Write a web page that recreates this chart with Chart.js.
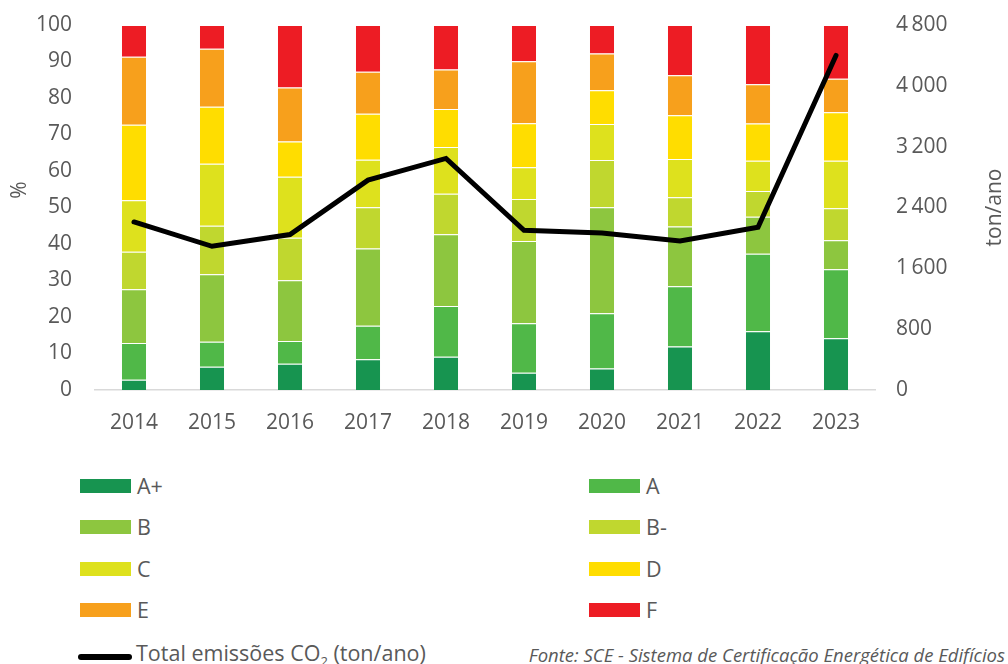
<!DOCTYPE html>
<html>
<head>
<meta charset="utf-8">
<script src="https://cdn.jsdelivr.net/npm/chart.js@4/dist/chart.umd.min.js"></script>
<style>
  body { margin: 0; background: #fff; font-family: 'Open Sans', sans-serif; color: #595959; }
  #wrap { position: relative; width: 1008px; height: 664px; }
  #chart-box { position: absolute; left: 0; top: 0; width: 1008px; height: 440px; }
  .leg { position: absolute; font-size: 21.5px; line-height: 22px; display: flex; align-items: center; }
  .sw { width: 51px; height: 14px; margin-right: 6px; }
  .ln { width: 54px; height: 6px; border-radius: 3px; background: #000; margin-right: 4px; }
  #fonte { position: absolute; right: 3px; top: 642px; font-size: 18.5px; font-style: italic; }
</style>
</head>
<body>
<div id="wrap">
  <div id="chart-box"><canvas id="myChart"></canvas></div>
  <div id="legend"></div>
  <div id="fonte">Fonte: SCE - Sistema de Certificação Energética de Edifícios</div>
</div>
<script>
const anos = ['2014', '2015', '2016', '2017', '2018', '2019', '2020', '2021', '2022', '2023'];

// % de certificados por classe energética
const classeAmais = [2.8, 6.4, 7.2, 8.4, 9.1, 4.7, 5.9, 11.9, 16.1, 14.2];
const classeA = [10.1, 6.8, 6.2, 9.2, 13.9, 13.6, 15.1, 16.5, 21.2, 18.9];
const classeB = [14.7, 18.5, 16.7, 21.2, 19.7, 22.5, 29.1, 16.4, 10.2, 7.9];
const classeBmenos = [10.3, 13.3, 11.6, 11.3, 11.1, 11.5, 12.9, 8.0, 7.0, 8.8];
const classeC = [14.1, 17.0, 16.7, 13.0, 12.8, 8.7, 9.9, 10.5, 8.3, 13.0];
const classeD = [20.7, 15.6, 9.7, 12.6, 10.4, 12.1, 9.2, 12.0, 10.2, 13.3];
const classeE = [18.6, 15.9, 14.8, 11.5, 10.8, 17.0, 10.1, 10.9, 10.8, 9.2];
const classeF = [8.7, 6.5, 17.1, 12.8, 12.2, 9.9, 7.8, 13.8, 16.2, 14.7];

// total emissões CO2 (ton/ano)
const emissoes = [2210, 1890, 2045, 2760, 3045, 2100, 2065, 1960, 2140, 4400];

const ticksPct = [0, 10, 20, 30, 40, 50, 60, 70, 80, 90, 100];
const ticksTon = [0, 800, 1600, 2400, 3200, 4000, 4800];

const classes = [
  { label: 'A+', data: classeAmais, cor: '#179450' },
  { label: 'A', data: classeA, cor: '#50b848' },
  { label: 'B', data: classeB, cor: '#8dc63f' },
  { label: 'B-', data: classeBmenos, cor: '#c0d72f' },
  { label: 'C', data: classeC, cor: '#dee11d' },
  { label: 'D', data: classeD, cor: '#ffdd00' },
  { label: 'E', data: classeE, cor: '#f7a01c' },
  { label: 'F', data: classeF, cor: '#ed1c24' },
];

const formatTon = (v) => {
  if (v < 1000) return String(v);
  return Math.floor(v / 1000) + '\u2009' + String(v % 1000).padStart(3, '0');
};

const fontTicks = { family: "'Open Sans', sans-serif", size: 21 };

const titulos = {
  id: 'titulos',
  afterDraw: (chart) => {
    const ctx = chart.ctx;
    ctx.save();
    ctx.fillStyle = '#595959';
    ctx.font = "21px 'Open Sans', sans-serif";
    ctx.textAlign = 'center';
    ctx.textBaseline = 'middle';
    ctx.translate(20, 190);
    ctx.rotate(-Math.PI / 2);
    ctx.fillText('%', 0, 0);
    ctx.restore();
    ctx.save();
    ctx.fillStyle = '#595959';
    ctx.font = "21px 'Open Sans', sans-serif";
    ctx.textAlign = 'center';
    ctx.textBaseline = 'middle';
    const area = chart.chartArea;
    ctx.translate(995, (area.top + area.bottom) / 2);
    ctx.rotate(-Math.PI / 2);
    ctx.fillText('ton/ano', 0, 0);
    ctx.restore();
  },
};

const datasets = classes.map((c) => ({
  type: 'bar',
  label: c.label,
  data: c.data,
  backgroundColor: c.cor,
  borderColor: 'rgba(255,255,255,0.55)',
  borderWidth: { top: 1 },
  borderSkipped: 'bottom',
  yAxisID: 'y',
  order: 1,
  barPercentage: 0.31,
  categoryPercentage: 1,
}));

datasets.push({
  type: 'line',
  label: 'Total emissões CO2 (ton/ano)',
  data: emissoes,
  borderColor: '#000',
  borderWidth: 5,
  pointRadius: 0,
  tension: 0,
  borderCapStyle: 'round',
  borderJoinStyle: 'miter',
  yAxisID: 'y1',
  order: 0,
});

const config = {
  type: 'bar',
  data: { labels: anos, datasets: datasets },
  options: {
    responsive: true,
    maintainAspectRatio: false,
    animation: false,
    layout: { padding: { top: 25, left: 0, right: 0, bottom: 0 } },
    plugins: { legend: { display: false }, tooltip: { enabled: false } },
    scales: {
      x: {
        stacked: true,
        grid: { display: false, drawTicks: false },
        border: { display: true, color: '#d9d9d9', width: 1.5 },
        ticks: { color: '#595959', font: fontTicks, padding: 20 },
        afterFit: (scale) => { scale.height = 50; scale.paddingLeft = 0; scale.paddingRight = 0; },
      },
      y: {
        stacked: true,
        position: 'left',
        min: 0,
        max: 100,
        afterBuildTicks: (scale) => { scale.ticks = ticksPct.map((v) => ({ value: v })); },
        grid: { display: false, drawTicks: false },
        border: { display: false },
        ticks: { color: '#595959', font: fontTicks, padding: 23 },
        afterFit: (scale) => { scale.width = 95; scale.paddingTop = 0; scale.paddingBottom = 0; },
      },
      y1: {
        position: 'right',
        min: 0,
        max: 4800,
        afterBuildTicks: (scale) => { scale.ticks = ticksTon.map((v) => ({ value: v })); },
        grid: { display: false, drawTicks: false },
        border: { display: false },
        ticks: { color: '#595959', font: fontTicks, padding: 21, callback: (v) => formatTon(v) },
        afterFit: (scale) => { scale.width = 133; scale.paddingTop = 0; scale.paddingBottom = 0; },
      },
    },
  },
  plugins: [titulos],
};

new Chart(document.querySelector('#myChart'), config);

// legenda em html, duas colunas
const legendEl = document.querySelector('#legend');
const linhasY = [486, 527, 569, 610];
classes.forEach((c, i) => {
  const col = i % 2;
  const row = Math.floor(i / 2);
  const x = col === 0 ? 80 : 589;
  legendEl.innerHTML +=
    `<div class="leg" style="left:${x}px;top:${linhasY[row] - 11}px">
      <div class="sw" style="background:${c.cor}"></div><span>${c.label}</span>
    </div>`;
});
legendEl.innerHTML +=
  `<div class="leg" style="left:78px;top:642px">
    <div class="ln"></div><span>Total emissões CO<sub style="font-size:13px;vertical-align:-5px">2</sub> (ton/ano)</span>
  </div>`;
</script>
</body>
</html>
